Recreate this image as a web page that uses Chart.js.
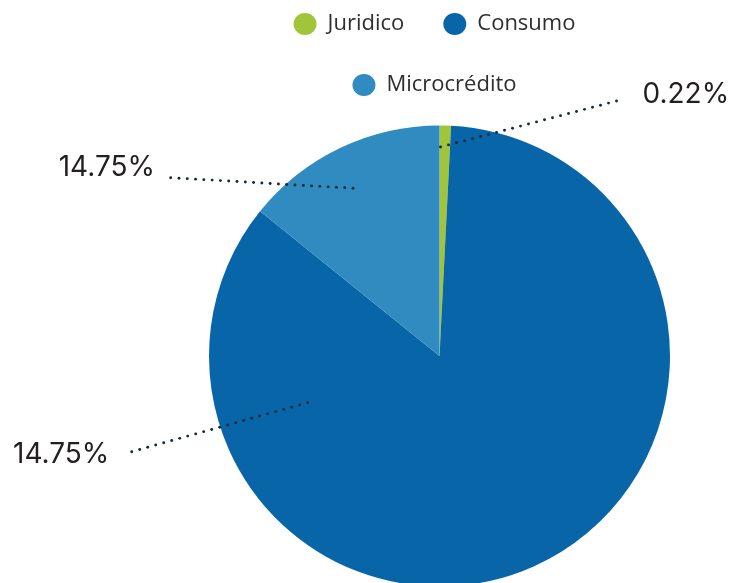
<!DOCTYPE html>
<html><head><meta charset="utf-8">
<script src="https://cdn.jsdelivr.net/npm/chart.js@4.4.1/dist/chart.umd.min.js"></script>
<style>
html,body{margin:0;padding:0;overflow:hidden;background:#fff;width:731px;height:583px;}
#wrap{position:absolute;left:0;top:-26px;width:731px;height:632px;}
</style></head><body>
<div id="wrap"><canvas id="c"></canvas></div>
<script>
// ---- data ----
const categories = ['Juridico', 'Consumo', 'Microcrédito'];
const shares = [0.8, 85.0, 14.2];
const sliceLabels = ['0.22%', '14.75%', '14.75%'];
const sliceColors = ['#a1c53a', '#0866a8', '#2f8bc0'];

// leader-line annotation layout, offsets from the pie centre (px)
const leaderLayout = [
  {inner: [1, -209], outer: [177, -255], text: [203, -253.5], align: 'left'},
  {inner: [-131.8, 46.7], outer: [-307.8, 95.7], text: [-330.2, 106.5], align: 'right'},
  {inner: [-86.5, -167.7], outer: [-268.8, -178.3], text: [-284.5, -180], align: 'right'}
];

const leaderPlugin = {
  id: 'leaders',
  afterDatasetsDraw(chart) {
    const arc = chart.getDatasetMeta(0).data[0];
    if (!arc) return;
    const cx = arc.x, cy = arc.y;
    const ctx = chart.ctx;
    ctx.save();
    leaderLayout.forEach((L, i) => {
      const x1 = cx + L.inner[0], y1 = cy + L.inner[1];
      const x2 = cx + L.outer[0], y2 = cy + L.outer[1];
      const len = Math.hypot(x2 - x1, y2 - y1);
      const n = Math.round(len / 8.2);
      ctx.fillStyle = '#16283a';
      for (let k = 0; k <= n; k++) {
        const t = k / n;
        ctx.beginPath();
        ctx.arc(x1 + (x2 - x1) * t, y1 + (y2 - y1) * t, 1.45, 0, Math.PI * 2);
        ctx.fill();
      }
      ctx.fillStyle = '#231f20';
      ctx.font = '28px Inter, "Open Sans", sans-serif';
      ctx.textAlign = L.align;
      ctx.textBaseline = 'alphabetic';
      ctx.fillText(sliceLabels[i], cx + L.text[0], cy + L.text[1]);
    });
    ctx.restore();
  }
};

const legendShift = {
  id: 'legendShift',
  afterLayout(chart) {
    const l = chart.legend;
    if (l) { l.left -= 5; l.right -= 5; }
  }
};

new Chart(document.getElementById('c'), {
  type: 'pie',
  data: {
    labels: categories,
    datasets: [{
      data: shares,
      backgroundColor: sliceColors,
      borderWidth: 0,
      hoverOffset: 0,
      offset: 0
    }]
  },
  options: {
    responsive: true,
    maintainAspectRatio: false,
    animation: false,
    layout: {padding: {left: 209, right: 61, top: 0, bottom: 0}},
    plugins: {
      tooltip: {enabled: false},
      legend: {
        position: 'top',
        labels: {
          usePointStyle: true,
          pointStyle: 'circle',
          pointStyleWidth: 23,
          boxHeight: 15.5,
          padding: 39,
          color: '#2e2e2e',
          font: {family: '"Open Sans", sans-serif', size: 22, weight: '500'}
        }
      }
    }
  },
  plugins: [leaderPlugin, legendShift]
});
</script>
</body></html>
